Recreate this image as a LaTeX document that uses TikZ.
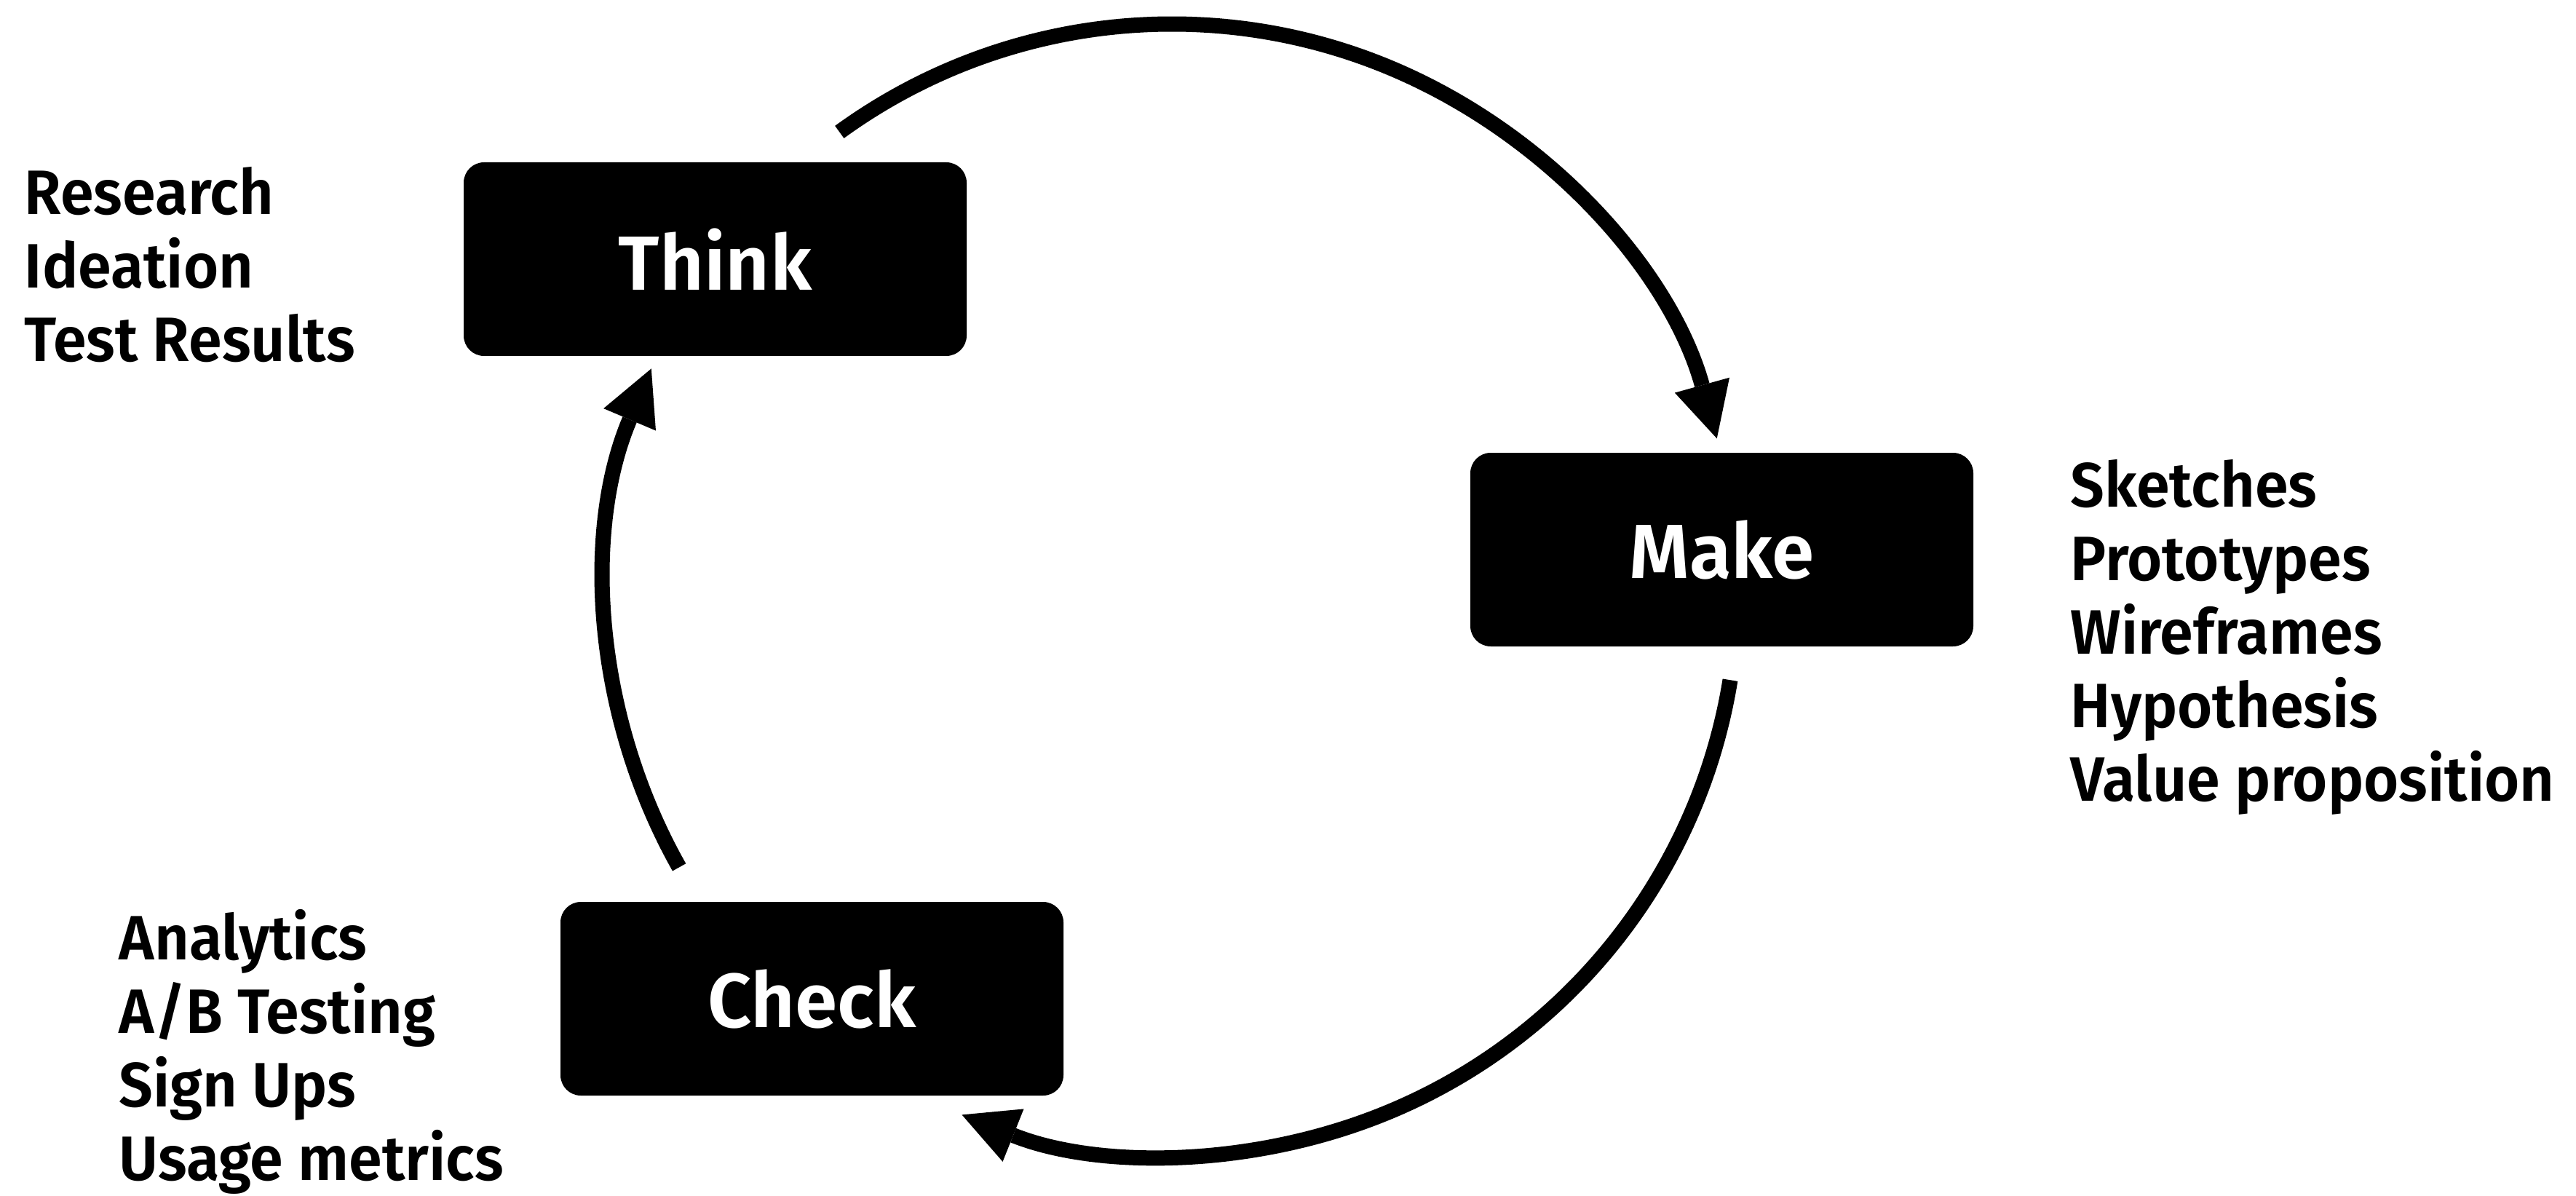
\documentclass[tikz,border=0pt]{standalone}
\usepackage{fontspec}
\setmainfont{Fira Sans}[UprightFont=* SemiBold]
\newfontfamily\notefont{Fira Sans}[UprightFont=* SemiBold,FakeStretch=0.96]
\usepackage{tikz}
\usetikzlibrary{arrows.meta}
\usetikzlibrary{calc}

\begin{document}
\begin{tikzpicture}[
        stage/.style={fill=black,text=white,rounded corners=0.28cm,minimum width=6.91cm,minimum height=2.66cm,inner sep=0pt,font=\fontsize{30}{36}\selectfont},
        notes/.style={anchor=north west,align=left,inner sep=0pt,font=\notefont\fontsize{24.5}{28.7}\selectfont},
        cyclearrow/.style={line width=0.21cm,-{Triangle[length=0.76cm,width=0.78cm,line width=0pt]}}
    ]
        \useasboundingbox (0,0) rectangle (35.39,-16.43);
        \coordinate (ctr) at (16.10,-8.10);
        \node[stage] (think) at (9.825,-3.56) {Think};
        \node[stage] (make) at (23.655,-7.55) {Make};
        \node[stage] (check) at (11.155,-13.72) {Check};
        \node[notes] (thinkNotes) at (0.33,-2.29) {Research\\Ideation\\Test Results};
        \node[notes] (makeNotes) at (28.44,-6.31) {Sketches\\Prototypes\\Wireframes\\Hypothesis\\Value proposition};
        \node[notes] (checkNotes) at (1.63,-12.49) {Analytics\\A/B Testing\\Sign Ups\\Usage metrics};
        \coordinate (thinkOut) at ($(ctr)+(126:7.77)$);
        \coordinate (makeOut) at ($(ctr)+(-9.2:7.77)$);
        \coordinate (checkOut) at ($(ctr)+(209.4:7.77)$);
        \draw[cyclearrow] (thinkOut) arc[start angle=126,end angle=15.5,radius=7.77];
        \draw[cyclearrow] (makeOut) arc[start angle=-9.2,end angle=-111.8,radius=7.77];
        \draw[cyclearrow] (checkOut) arc[start angle=209.4,end angle=157,radius=7.77];
    \end{tikzpicture}
\end{document}
